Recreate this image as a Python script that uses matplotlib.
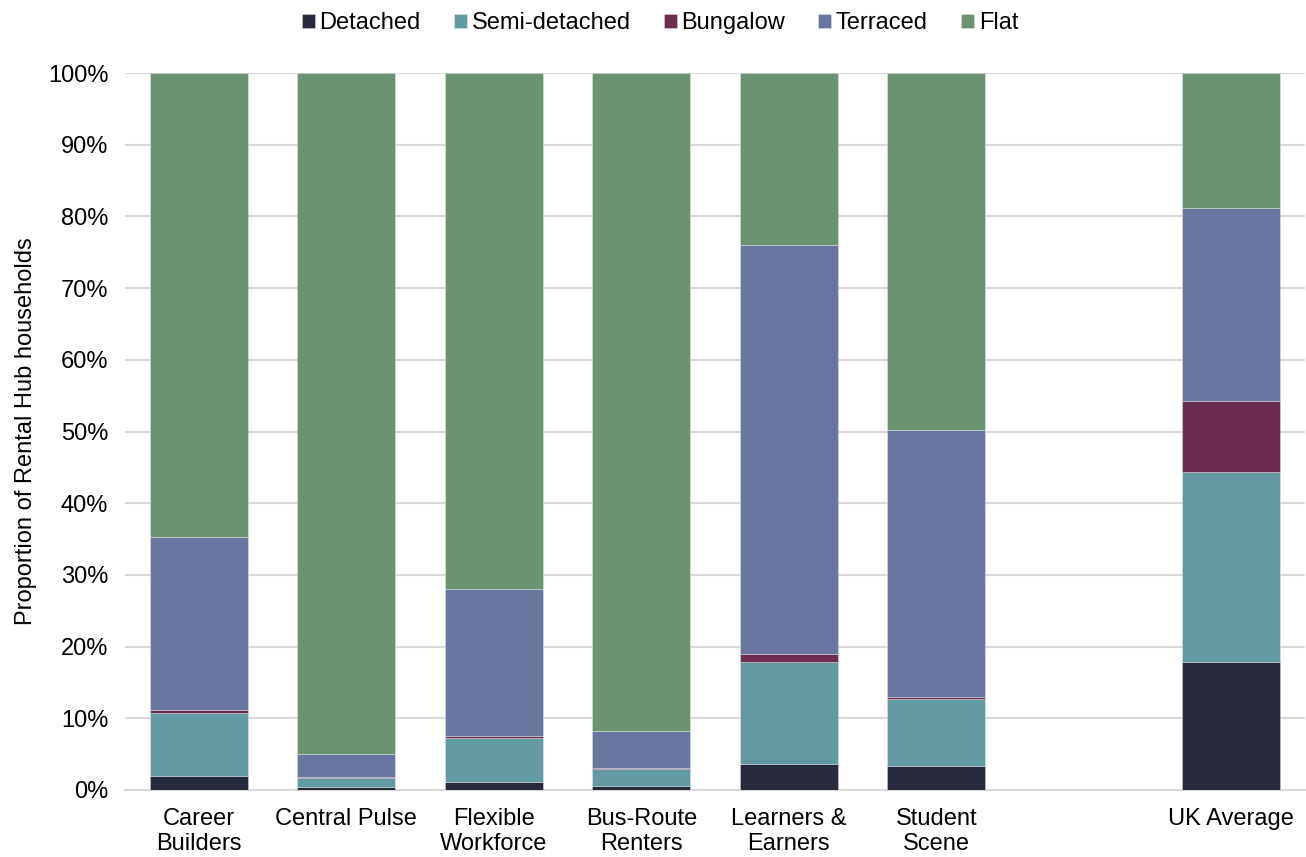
import matplotlib
matplotlib.use("Agg")
import matplotlib.pyplot as plt
import numpy as np
from matplotlib.ticker import PercentFormatter

plt.rcParams['font.family'] = ['Liberation Sans', 'DejaVu Sans']

categories = ["Career\nBuilders", "Central Pulse", "Flexible\nWorkforce", "Bus-Route\nRenters",
              "Learners &\nEarners", "Student\nScene", "", "UK Average"]
series_names = ["Detached", "Semi-detached", "Bungalow", "Terraced", "Flat"]
detached = [2.0, 0.4, 1.1, 0.5, 3.6, 3.4, 0, 17.8]
semi = [8.8, 1.3, 6.2, 2.4, 14.2, 9.3, 0, 26.5]
bungalow = [0.3, 0.1, 0.2, 0.2, 1.2, 0.3, 0, 9.9]
terraced = [24.2, 3.2, 20.5, 5.1, 57.0, 37.2, 0, 27.0]
flat = [64.7, 95.0, 72.0, 91.8, 24.0, 49.8, 0, 18.8]
colors = ["#262A3C", "#6399A0", "#6B2E4F", "#6A76A0", "#6B9371"]

fig = plt.figure(figsize=(13.06, 8.57), dpi=100)
ax = fig.add_axes([125/1306, 1 - 790/857, (1305 - 125)/1306, (790 - 73)/857])

x = np.arange(len(categories))
bottom = np.zeros(len(categories))
for name, vals, c in zip(series_names, [detached, semi, bungalow, terraced, flat], colors):
    v = np.array(vals, dtype=float)
    ax.bar(x, v, 0.665, bottom=bottom, color=c, label=name,
           edgecolor=(1, 1, 1, 0.35), linewidth=0.6, zorder=3)
    bottom += v

ax.set_xlim(-0.5, len(categories) - 0.5)
ax.set_ylim(0, 100)
ax.set_yticks(np.arange(0, 101, 10))
ax.yaxis.set_major_formatter(PercentFormatter(decimals=0))
ax.grid(axis='y', color='#D9D9D9', linewidth=1.5, zorder=0)
ax.set_axisbelow(True)
for s in ['top', 'right', 'left']:
    ax.spines[s].set_visible(False)
ax.spines['bottom'].set_color('#D9D9D9')
ax.spines['bottom'].set_linewidth(1.5)
ax.set_xticks(x)
ax.set_xticklabels(categories, fontsize=17, linespacing=1.2)
ax.tick_params(axis='x', length=0, pad=13)
ax.tick_params(axis='y', length=0, labelsize=17, pad=12)
ax.set_ylabel("Proportion of Rental Hub households", fontsize=17, labelpad=8)

fig.legend(loc='center', bbox_to_anchor=(660/1306, 1 - 23/857), ncol=5, frameon=False,
           fontsize=17, handlelength=0.55, handleheight=0.55, handletextpad=0.2,
           columnspacing=1.4)

fig.savefig("out.png", dpi=100)
